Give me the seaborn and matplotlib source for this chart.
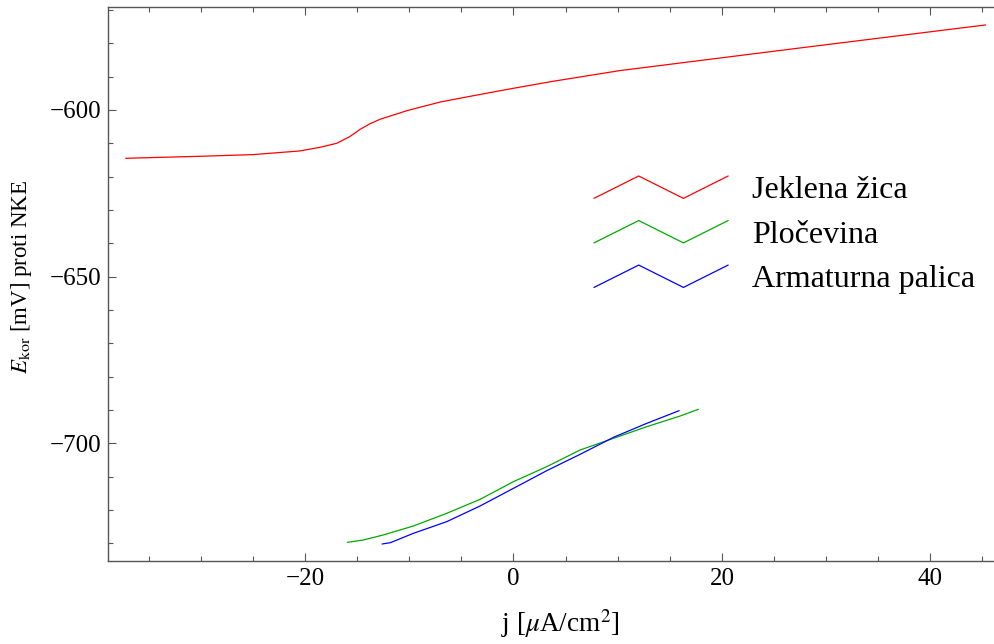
import numpy as np
import pandas as pd
import seaborn as sns
import matplotlib.pyplot as plt
from matplotlib.lines import Line2D
from matplotlib.legend_handler import HandlerLine2D
from matplotlib.ticker import MultipleLocator

# ----------------------------------------
# Data
# ----------------------------------------

names = ["Jeklena žica", "Pločevina", "Armaturna palica"]
colors = ["#ff0000", "#00aa00", "#0000ff"]

wire_j = [-37.2, -30.1, -25.0, -20.5, -18.55, -16.95, -15.7, -14.7, -13.8,
          -12.8, -11.5, -10.2, -7.0, -3.8, 0.0, 3.8, 10.2, 27.5, 45.3]
wire_e = [-614.5, -613.9, -613.4, -612.3, -611.2, -610.0, -608.0, -605.8,
          -604.2, -602.8, -601.5, -600.2, -597.6, -595.7, -593.5, -591.4,
          -588.2, -581.4, -574.5]

sheet_j = [-15.93, -14.4, -12.5, -9.6, -6.4, -3.2, 0.0, 3.2, 6.4, 9.6,
           12.8, 16.0, 17.75]
sheet_e = [-729.7, -729.0, -727.5, -724.8, -721.0, -716.8, -711.5, -707.0,
           -702.0, -698.5, -695.0, -691.8, -689.8]

rebar_j = [-12.6, -11.8, -9.6, -6.4, -3.2, 0.0, 3.2, 6.4, 9.6, 12.8, 15.9]
rebar_e = [-730.2, -729.8, -727.0, -723.5, -718.8, -713.5, -708.2, -703.3,
           -698.2, -694.0, -690.2]

x_ticks = [-20, 0, 20, 40]
y_ticks = [-700, -650, -600]

df = pd.concat([
    pd.DataFrame({"j": wire_j, "E": wire_e, "vzorec": names[0]}),
    pd.DataFrame({"j": sheet_j, "E": sheet_e, "vzorec": names[1]}),
    pd.DataFrame({"j": rebar_j, "E": rebar_e, "vzorec": names[2]}),
])

# ----------------------------------------
# Style
# ----------------------------------------

sns.set_style("ticks")
plt.rcParams["font.family"] = ["Liberation Serif", "DejaVu Serif"]
plt.rcParams["mathtext.fontset"] = "stix"
plt.rcParams["text.color"] = "black"
plt.rcParams["axes.labelcolor"] = "black"
axis_grey = "#555555"


# zig-zag legend handle like the original
class ZigZagHandler(HandlerLine2D):
    def create_artists(self, legend, orig_handle, xdescent, ydescent,
                       width, height, fontsize, trans):
        xs = np.array([0, 1/3, 2/3, 1]) * width - xdescent
        ys = np.array([0, 1, 0, 1]) * height - ydescent
        line = Line2D(xs, ys, color=orig_handle.get_color(), lw=0.9)
        line.set_transform(trans)
        return [line]


fig = plt.figure(figsize=(9.95, 6.44), dpi=100)
ax = fig.add_axes([0.1085, 0.1294, 0.8915, 0.8593])

sns.lineplot(data=df, x="j", y="E", hue="vzorec", palette=colors,
             sort=False, estimator=None, lw=0.9, legend=False, ax=ax)

ax.set_xlim(-38.9, 46.2)
ax.set_ylim(-735.2, -569.2)
ax.set_xticks(x_ticks)
ax.set_yticks(y_ticks)
ax.xaxis.set_minor_locator(MultipleLocator(5))
ax.yaxis.set_minor_locator(MultipleLocator(10))

ax.spines["right"].set_visible(False)
for s in ["left", "bottom", "top"]:
    ax.spines[s].set_color(axis_grey)
    ax.spines[s].set_linewidth(1.0)

ax.tick_params(which="both", direction="in", color=axis_grey, width=0.8,
               top=True, right=False, labelsize=18, labelcolor="black", pad=5)
ax.tick_params(which="major", length=6)
ax.tick_params(which="minor", length=3.5)

ax.set_xlabel(r"j [$\mu$A/cm$^2$]", fontsize=19.5, va="center")
ax.set_ylabel(r"$E_{\rm kor}$ [mV] proti NKE", fontsize=16.5, va="center")
ax.xaxis.set_label_coords(0.5096, -0.113)
ax.yaxis.set_label_coords(-0.097, 0.5135)

handles = ax.get_lines()[:3]
ax.legend(handles, names, handler_map={Line2D: ZigZagHandler()},
          loc="upper left", bbox_to_anchor=(594 / 995, 1 - 176 / 644),
          bbox_transform=fig.transFigure, frameon=False, fontsize=23,
          handlelength=4.2, handletextpad=0.75, labelspacing=0.475,
          borderpad=0, borderaxespad=0)

plt.savefig("out.png", dpi=100)
